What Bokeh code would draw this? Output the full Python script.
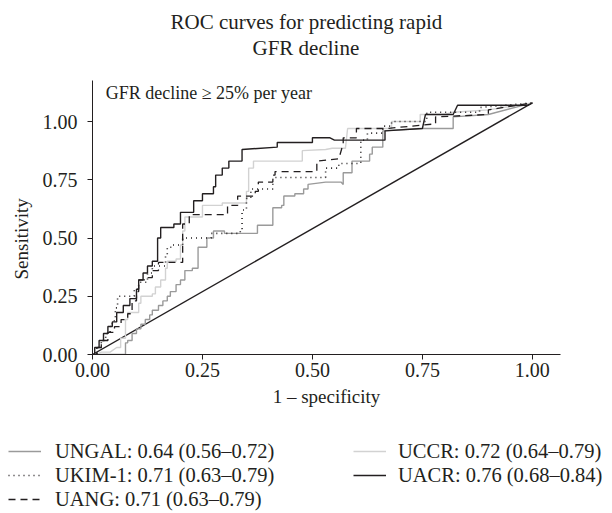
from bokeh.plotting import figure
from bokeh.models import Range1d, Label, Legend, LegendItem, Title, FixedTicker
from bokeh.embed import file_html
from bokeh.resources import INLINE

# ---- data (step vertices) ----
ungal_x = [0, 0.075, 0.075, 0.08, 0.08, 0.09, 0.09, 0.10, 0.10, 0.11, 0.11, 0.12, 0.12, 0.13, 0.13,
           0.136, 0.136, 0.15, 0.15, 0.16, 0.16, 0.17, 0.17, 0.177, 0.177, 0.19, 0.19, 0.20, 0.20,
           0.21, 0.21, 0.227, 0.227, 0.24, 0.24, 0.26, 0.26, 0.275, 0.275, 0.30, 0.30, 0.375, 0.375,
           0.41, 0.41, 0.43, 0.43, 0.435, 0.435, 0.46, 0.46, 0.48, 0.48, 0.49, 0.49, 0.53, 0.565,
           0.57, 0.57, 0.59, 0.59, 0.63, 0.63, 0.636, 0.636, 0.66, 0.66, 0.745, 0.82, 0.82, 0.90, 1.0]
ungal_y = [0, 0, 0.05, 0.05, 0.06, 0.06, 0.09, 0.09, 0.11, 0.11, 0.13, 0.13, 0.15, 0.15, 0.17,
           0.17, 0.19, 0.19, 0.21, 0.21, 0.23, 0.23, 0.25, 0.25, 0.27, 0.27, 0.30, 0.30, 0.32,
           0.32, 0.36, 0.36, 0.37, 0.37, 0.46, 0.46, 0.50, 0.50, 0.53, 0.53, 0.52, 0.52, 0.555,
           0.555, 0.63, 0.63, 0.64, 0.64, 0.68, 0.68, 0.69, 0.69, 0.71, 0.71, 0.73, 0.74, 0.74,
           0.73, 0.78, 0.78, 0.83, 0.83, 0.86, 0.86, 0.89, 0.89, 0.96, 0.97, 0.97, 1.02, 1.03, 1.08]

ukim_x = [0, 0.01, 0.01, 0.02, 0.02, 0.03, 0.03, 0.04, 0.04, 0.045, 0.045, 0.052, 0.052, 0.057,
          0.057, 0.095, 0.095, 0.105, 0.105, 0.125, 0.125, 0.136, 0.136, 0.166, 0.166, 0.17, 0.17,
          0.18, 0.18, 0.205, 0.205, 0.27, 0.27, 0.336, 0.336, 0.34, 0.34, 0.35, 0.35, 0.36, 0.36,
          0.41, 0.41, 0.53, 0.53, 0.56, 0.56, 0.61, 0.61, 0.625, 0.625, 0.66, 0.66, 0.68, 0.68,
          0.76, 0.76, 0.88, 0.88, 1.0]
ukim_y = [0, 0, 0.03, 0.03, 0.06, 0.06, 0.09, 0.09, 0.12, 0.12, 0.145, 0.145, 0.20, 0.20,
          0.25, 0.25, 0.28, 0.28, 0.31, 0.31, 0.35, 0.35, 0.38, 0.38, 0.43, 0.43, 0.46,
          0.46, 0.47, 0.47, 0.50, 0.50, 0.52, 0.52, 0.54, 0.54, 0.62, 0.62, 0.67, 0.67, 0.71,
          0.71, 0.76, 0.76, 0.80, 0.80, 0.82, 0.82, 0.92, 0.92, 0.95, 0.95, 0.98, 0.98, 1.0,
          1.0, 1.04, 1.04, 1.06, 1.08]

uang_x = [0, 0.01, 0.01, 0.02, 0.02, 0.035, 0.035, 0.05, 0.05, 0.065, 0.065, 0.08, 0.08, 0.09,
          0.09, 0.10, 0.10, 0.105, 0.105, 0.12, 0.12, 0.136, 0.136, 0.15, 0.15, 0.205, 0.205,
          0.22, 0.22, 0.307, 0.307, 0.33, 0.33, 0.37, 0.37, 0.377, 0.377, 0.41, 0.41, 0.415,
          0.415, 0.51, 0.51, 0.56, 0.56, 0.57, 0.57, 0.60, 0.60, 0.67, 0.78, 0.78, 0.90, 0.90, 1.0]
uang_y = [0, 0, 0.03, 0.03, 0.06, 0.06, 0.095, 0.095, 0.12, 0.12, 0.15, 0.15, 0.175, 0.175,
          0.23, 0.23, 0.27, 0.27, 0.32, 0.32, 0.33, 0.33, 0.36, 0.36, 0.395, 0.395, 0.56,
          0.56, 0.60, 0.60, 0.64, 0.64, 0.68, 0.68, 0.70, 0.70, 0.74, 0.74, 0.77, 0.77,
          0.785, 0.785, 0.83, 0.84, 0.84, 0.905, 0.93, 0.93, 0.97, 0.97, 0.99, 1.02, 1.03, 1.05, 1.08]

uccr_x = [0, 0.01, 0.02, 0.04, 0.055, 0.064, 0.064, 0.075, 0.075, 0.08, 0.08, 0.105, 0.105, 0.11,
          0.11, 0.136, 0.136, 0.143, 0.143, 0.155, 0.155, 0.166, 0.166, 0.17, 0.17, 0.19, 0.19,
          0.20, 0.20, 0.205, 0.205, 0.21, 0.21, 0.25, 0.25, 0.295, 0.295, 0.35, 0.35, 0.355,
          0.355, 0.366, 0.366, 0.477, 0.477, 0.53, 0.545, 0.575, 0.58, 0.68, 0.68, 0.745,
          0.745, 0.80, 0.82, 0.90, 1.0]
uccr_y = [0, 0, 0.01, 0.01, 0.03, 0.03, 0.07, 0.07, 0.15, 0.15, 0.18, 0.18, 0.22, 0.22,
          0.25, 0.25, 0.26, 0.26, 0.29, 0.29, 0.32, 0.32, 0.37, 0.37, 0.40, 0.40, 0.41,
          0.41, 0.47, 0.47, 0.53, 0.53, 0.59, 0.59, 0.64, 0.64, 0.65, 0.65, 0.70, 0.70,
          0.80, 0.80, 0.83, 0.83, 0.875, 0.88, 0.885, 0.885, 0.97, 0.97, 1.0, 1.0,
          1.03, 1.03, 1.04, 1.05, 1.08]

uacr_x = [0, 0.005, 0.005, 0.015, 0.015, 0.025, 0.025, 0.035, 0.035, 0.045, 0.045, 0.055, 0.055,
          0.07, 0.07, 0.085, 0.085, 0.10, 0.10, 0.105, 0.105, 0.115, 0.115, 0.125, 0.125, 0.136,
          0.136, 0.148, 0.148, 0.155, 0.155, 0.185, 0.185, 0.20, 0.20, 0.23, 0.23, 0.25, 0.25,
          0.275, 0.275, 0.28, 0.28, 0.295, 0.295, 0.31, 0.31, 0.34, 0.34, 0.42, 0.42, 0.50,
          0.50, 0.54, 0.55, 0.665, 0.665, 0.75, 0.757, 0.82, 0.83, 0.99, 1.0]
uacr_y = [0, 0, 0.03, 0.03, 0.06, 0.06, 0.09, 0.09, 0.12, 0.12, 0.14, 0.14, 0.18,
          0.18, 0.21, 0.21, 0.24, 0.24, 0.28, 0.28, 0.32, 0.32, 0.35, 0.35, 0.38, 0.38,
          0.40, 0.40, 0.50, 0.50, 0.545, 0.545, 0.56, 0.56, 0.61, 0.61, 0.66, 0.66, 0.69,
          0.69, 0.72, 0.72, 0.77, 0.77, 0.80, 0.80, 0.83, 0.83, 0.88, 0.89, 0.91, 0.91,
          0.93, 0.93, 0.92, 0.92, 0.96, 0.97, 1.03, 1.03, 1.07, 1.07, 1.08]

ref_x = [0, 1.0]
ref_y = [0, 1.08]

series_labels = ["UNGAL: 0.64 (0.56–0.72)", "UKIM-1: 0.71 (0.63–0.79)",
                 "UANG: 0.71 (0.63–0.79)", "UCCR: 0.72 (0.64–0.79)",
                 "UACR: 0.76 (0.68–0.84)"]
tick_values = [0, 0.25, 0.5, 0.75, 1.0]
tick_labels = ["0.00", "0.25", "0.50", "0.75", "1.00"]

FONT = "Liberation Serif"
INK = "#231f20"
styles = [dict(line_color="#9a9a9a", line_width=1.4),
          dict(line_color=INK, line_width=1.6, line_dash="1 4"),
          dict(line_color=INK, line_width=1.3, line_dash="7 5"),
          dict(line_color="#d2d2d2", line_width=1.4),
          dict(line_color=INK, line_width=1.4)]
curves = [(ungal_x, ungal_y), (ukim_x, ukim_y), (uang_x, uang_y), (uccr_x, uccr_y), (uacr_x, uacr_y)]

p = figure(width=612, height=420, output_backend="svg", toolbar_location=None,
           x_range=Range1d(0, 1.064), y_range=Range1d(0, 1.176), title=None,
           min_border_left=92, min_border_right=52, min_border_top=80, min_border_bottom=66)
p.outline_line_color = None
p.grid.grid_line_color = None
p.background_fill_color = "white"
p.border_fill_color = "white"

for ax in (p.xaxis[0], p.yaxis[0]):
    ax.ticker = FixedTicker(ticks=tick_values)
    ax.major_label_overrides = dict(zip(tick_values, tick_labels))
    ax.minor_tick_line_color = None
    ax.major_tick_in = 0
    ax.major_tick_out = 5
    ax.axis_line_color = INK
    ax.major_tick_line_color = INK
    ax.major_label_text_font = FONT
    ax.major_label_text_font_size = "20px"
    ax.major_label_text_color = INK
    ax.axis_label_text_font = FONT
    ax.axis_label_text_font_size = "19px"
    ax.axis_label_text_font_style = "normal"
    ax.axis_label_text_color = INK
p.xaxis.axis_label = "1 – specificity"
# trailing no-break spaces centre the visible word on the 0.50 level, as in the original
p.yaxis.axis_label = "Sensitivity" + "\u00a0" * 9
p.xaxis.major_label_standoff = 3
p.yaxis.major_label_standoff = 10
p.xaxis.axis_label_standoff = 6
p.yaxis.axis_label_standoff = 8

p.line(ref_x, ref_y, line_color=INK, line_width=1.4)
for i in [0, 3, 1, 2, 4]:
    p.line(curves[i][0], curves[i][1], **styles[i])

# spacer + two title lines, stacked outward from the frame
p.add_layout(Title(text=" ", text_font_size="17px", standoff=0), "above")
p.add_layout(Title(text="GFR decline", align="left", offset=160, text_font=FONT,
                   text_font_size="21px", text_font_style="normal", text_color=INK,
                   standoff=0), "above")
p.add_layout(Title(text="ROC curves for predicting rapid", align="left", offset=78,
                   text_font=FONT, text_font_size="21px", text_font_style="normal",
                   text_color=INK, standoff=0), "above")

p.add_layout(Label(x=0.03, y=1.124, text="GFR decline ≥ 25% per year", text_font=FONT,
                   text_font_size="18px", text_color=INK, text_baseline="middle"))

# ---- legend panel underneath (separate root, so its frame spans the full width) ----
q = figure(width=612, height=93, output_backend="svg", toolbar_location=None,
           x_range=Range1d(0, 1.064), y_range=Range1d(0, 1.176),
           min_border_left=0, min_border_right=0, min_border_top=0, min_border_bottom=0)
q.axis.visible = False
q.grid.grid_line_color = None
q.outline_line_color = None
key_renderers = [q.line(curves[i][0], curves[i][1], visible=False, **styles[i]) for i in range(5)]

def make_legend(idx, loc, standoff):
    return Legend(items=[LegendItem(label=series_labels[i], renderers=[key_renderers[i]]) for i in idx],
                  location=loc, orientation="vertical",
                  label_text_font=FONT, label_text_font_size="20.5px", label_text_color=INK,
                  glyph_width=33, glyph_height=24, label_height=24, label_standoff=standoff,
                  spacing=0, padding=0, margin=0, border_line_color=None,
                  background_fill_alpha=0, inactive_fill_alpha=0)

q.add_layout(make_legend([0, 1, 2], (8, 2), 14))
q.add_layout(make_legend([3, 4], (353, 26), 12))

open("out.html", "w").write(file_html([p, q], INLINE))
